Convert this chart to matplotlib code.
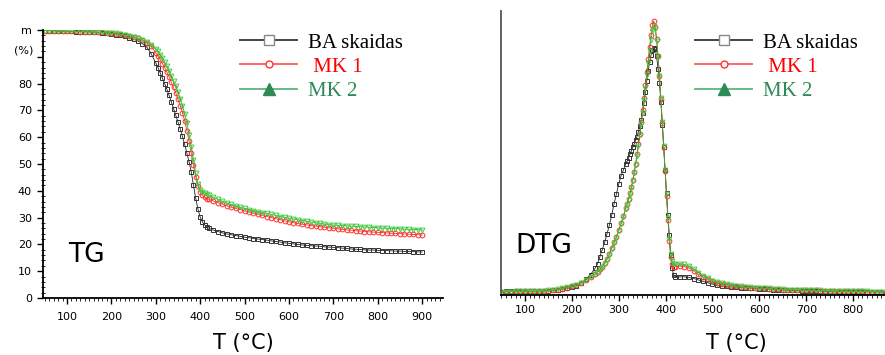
import numpy as np
import matplotlib
matplotlib.use("Agg")
from matplotlib import pyplot as plt
from matplotlib.lines import Line2D
from matplotlib.ticker import MultipleLocator

# temperature grids (denser where the curves are steep)
t_tg = np.concatenate([np.arange(50, 300, 10), np.arange(300, 420, 5), np.arange(420, 901, 10)])
t_dtg = np.concatenate([np.arange(50, 251, 10), np.arange(255, 316, 5),
                        np.arange(318, 421, 3), np.arange(430, 901, 10)])

# TG, mass %
tg_ba = [99.8, 99.8, 99.7, 99.6, 99.6, 99.5, 99.5, 99.4, 99.4, 99.3,
         99.3, 99.2, 99.1, 99.0, 98.8, 98.6, 98.3, 98.0, 97.6, 97.1,
         96.6, 95.9, 94.9, 93.6, 91.0,
         87.8, 86.0, 84.0, 82.0, 80.0, 77.9, 75.6, 73.2, 70.7, 68.2,
         65.7, 63.2, 60.4, 57.3, 54.1, 50.8, 47.0, 42.0, 37.2, 33.2,
         30.2, 28.4, 27.3, 26.6,
         26.0, 25.3, 24.8, 24.3, 23.9, 23.6, 23.3, 23.0, 22.7, 22.5,
         22.2, 22.0, 21.8, 21.6, 21.3, 21.1, 20.9, 20.6, 20.4, 20.2,
         20.0, 19.8, 19.6, 19.5, 19.4, 19.3, 19.1, 19.0, 18.9, 18.8,
         18.6, 18.5, 18.3, 18.2, 18.1, 18.0, 17.9, 17.9, 17.8, 17.7,
         17.7, 17.6, 17.5, 17.5, 17.4, 17.4, 17.3, 17.2, 17.2]
tg_mk1 = [99.8, 99.8, 99.7, 99.7, 99.6, 99.6, 99.5, 99.5, 99.4, 99.4,
          99.3, 99.3, 99.2, 99.1, 99.0, 98.8, 98.6, 98.4, 98.1, 97.8,
          97.4, 96.9, 96.2, 95.2, 94.0,
          91.4, 90.3, 89.0, 87.5, 86.0, 84.3, 82.5, 80.5, 78.6, 76.6,
          74.2, 71.8, 69.2, 66.2, 62.5, 58.4, 54.0, 49.5, 45.2, 41.8,
          39.5, 38.3, 37.6, 37.1,
          36.8, 36.2, 35.6, 35.0, 34.4, 33.9, 33.4, 33.0, 32.5, 32.0,
          31.6, 31.2, 30.8, 30.4, 30.0, 29.6, 29.2, 28.8, 28.4, 28.1,
          27.8, 27.5, 27.3, 27.0, 26.8, 26.6, 26.4, 26.2, 26.0, 25.8,
          25.6, 25.4, 25.3, 25.1, 25.0, 24.8, 24.7, 24.6, 24.5, 24.4,
          24.3, 24.2, 24.1, 24.0, 23.9, 23.8, 23.7, 23.6, 23.5]
tg_mk2 = [99.8, 99.8, 99.8, 99.7, 99.7, 99.6, 99.6, 99.5, 99.5, 99.4,
          99.4, 99.3, 99.2, 99.1, 99.0, 98.9, 98.7, 98.5, 98.2, 97.9,
          97.5, 97.0, 96.4, 95.5, 94.4,
          93.0, 92.0, 90.8, 89.5, 88.1, 86.5, 84.7, 82.8, 80.9, 79.0,
          76.8, 74.4, 71.8, 68.8, 65.2, 61.0, 56.4, 51.4, 46.6, 42.6,
          40.3, 39.5, 39.0, 38.7,
          38.4, 37.6, 36.8, 36.1, 35.5, 34.9, 34.4, 33.9, 33.4, 33.0,
          32.6, 32.2, 31.9, 31.6, 31.2, 30.8, 30.4, 30.1, 29.8, 29.5,
          29.2, 28.9, 28.6, 28.3, 28.1, 27.9, 27.6, 27.4, 27.2, 27.1,
          27.0, 26.9, 26.8, 26.7, 26.6, 26.5, 26.4, 26.3, 26.2, 26.1,
          26.0, 25.9, 25.9, 25.8, 25.7, 25.6, 25.5, 25.5, 25.4]

# DTG, arbitrary units
dtg_ba = [0.012, 0.013, 0.014, 0.015, 0.015, 0.015, 0.014, 0.014, 0.014, 0.014,
          0.015, 0.016, 0.018, 0.020, 0.023, 0.028, 0.033, 0.042, 0.055, 0.072, 0.095,
          0.110, 0.135, 0.160, 0.185, 0.215, 0.245, 0.280, 0.320, 0.355, 0.390, 0.420, 0.440, 0.462,
          0.472, 0.482, 0.495, 0.508, 0.520, 0.532, 0.545, 0.558, 0.575, 0.595,
          0.615, 0.640, 0.675, 0.715, 0.755, 0.790, 0.820, 0.845, 0.862, 0.870,
          0.865, 0.840, 0.795, 0.745, 0.680, 0.600, 0.520, 0.440, 0.360, 0.280,
          0.210, 0.140, 0.095, 0.072, 0.065,
          0.064, 0.064, 0.062, 0.058, 0.053, 0.048, 0.043, 0.038, 0.035, 0.032,
          0.030, 0.028, 0.027, 0.026, 0.025, 0.024, 0.023, 0.022, 0.021, 0.020,
          0.019, 0.018, 0.017, 0.017, 0.016, 0.016, 0.015, 0.015, 0.014, 0.014,
          0.014, 0.013, 0.013, 0.013, 0.012, 0.012, 0.012, 0.012, 0.011, 0.011,
          0.011, 0.011, 0.011, 0.010, 0.010, 0.010, 0.010, 0.010]
dtg_mk1 = [0.010, 0.011, 0.012, 0.013, 0.013, 0.013, 0.013, 0.013, 0.013, 0.014,
           0.015, 0.017, 0.019, 0.022, 0.026, 0.030, 0.035, 0.043, 0.052, 0.063, 0.075,
           0.082, 0.090, 0.100, 0.112, 0.126, 0.145, 0.165, 0.185, 0.205, 0.228, 0.252, 0.278, 0.305,
           0.320, 0.338, 0.358, 0.380, 0.405, 0.432, 0.462, 0.495, 0.530, 0.568,
           0.608, 0.650, 0.695, 0.740, 0.785, 0.830, 0.875, 0.915, 0.950, 0.965,
           0.945, 0.900, 0.840, 0.770, 0.690, 0.605, 0.520, 0.435, 0.350, 0.265,
           0.190, 0.135, 0.110, 0.100, 0.100,
           0.102, 0.100, 0.094, 0.085, 0.073, 0.063, 0.055, 0.048, 0.043, 0.039,
           0.036, 0.033, 0.031, 0.029, 0.027, 0.026, 0.025, 0.024, 0.023, 0.022,
           0.021, 0.020, 0.019, 0.019, 0.018, 0.018, 0.017, 0.017, 0.016, 0.016,
           0.015, 0.015, 0.015, 0.014, 0.014, 0.014, 0.013, 0.013, 0.013, 0.013,
           0.012, 0.012, 0.012, 0.012, 0.012, 0.011, 0.011, 0.011]
dtg_mk2 = [0.011, 0.012, 0.012, 0.013, 0.013, 0.013, 0.013, 0.013, 0.014, 0.015,
           0.016, 0.018, 0.020, 0.023, 0.027, 0.031, 0.036, 0.044, 0.053, 0.063, 0.074,
           0.082, 0.090, 0.099, 0.110, 0.124, 0.142, 0.162, 0.182, 0.202, 0.225, 0.249, 0.275, 0.302,
           0.318, 0.335, 0.355, 0.377, 0.401, 0.428, 0.457, 0.490, 0.525, 0.562,
           0.601, 0.642, 0.686, 0.730, 0.775, 0.818, 0.860, 0.898, 0.930, 0.948,
           0.935, 0.895, 0.838, 0.770, 0.692, 0.610, 0.525, 0.440, 0.355, 0.272,
           0.198, 0.143, 0.118, 0.108, 0.108,
           0.110, 0.108, 0.101, 0.091, 0.079, 0.068, 0.059, 0.051, 0.045, 0.041,
           0.037, 0.034, 0.032, 0.030, 0.028, 0.027, 0.026, 0.025, 0.024, 0.023,
           0.022, 0.021, 0.020, 0.019, 0.019, 0.018, 0.018, 0.017, 0.017, 0.016,
           0.016, 0.015, 0.015, 0.015, 0.014, 0.014, 0.014, 0.013, 0.013, 0.013,
           0.013, 0.012, 0.012, 0.012, 0.012, 0.012, 0.011, 0.011]

labels = ["BA skaidas", " MK 1", "MK 2"]
label_colors = ["black", "#ff0000", "#2e8b57"]

fig = plt.figure(figsize=(8.85, 3.55), dpi=100)
ax1 = fig.add_axes([43 / 885, 57 / 355, 400 / 885, 268 / 355])
ax2 = fig.add_axes([501 / 885, 60 / 355, 384 / 885, 284 / 355])

styles = [dict(marker="s", color="#222222", mec="#333333"),
          dict(marker="o", color="#ff3030", mec="#ff3030"),
          dict(marker="v", color="#30b030", mec="#44cc44")]


def draw(ax, t, series):
    for y, st in zip(series, styles):
        ax.plot(t, y, lw=0.6, marker=st["marker"], color=st["color"], mec=st["mec"],
                mfc="none", ms=3.4, mew=0.7)


draw(ax1, t_tg, [tg_ba, tg_mk1, tg_mk2])
draw(ax2, t_dtg, [dtg_ba, dtg_mk1, dtg_mk2])

for ax in (ax1, ax2):
    ax.spines["top"].set_visible(False)
    ax.spines["right"].set_visible(False)
    ax.xaxis.set_major_locator(MultipleLocator(100))
    ax.xaxis.set_minor_locator(MultipleLocator(10))
    ax.tick_params(axis="x", which="major", direction="out", length=4, width=1, labelsize=8)
    ax.tick_params(axis="x", which="minor", direction="out", length=2, width=0.6)

ax1.set_xlim(46, 947)
ax1.set_ylim(0, 100)
ax1.set_yticks(np.arange(0, 101, 10))
ax1.set_yticklabels([str(v) for v in range(0, 90, 10)] + ["", "m"])
ax1.yaxis.set_minor_locator(MultipleLocator(2))
ax1.tick_params(axis="y", which="major", direction="out", length=4, width=1, labelsize=8, pad=4)
ax1.tick_params(axis="y", which="minor", direction="inout", length=3, width=0.6)
ax1.tick_params(axis="x", which="major", pad=6)
for s in ("left", "bottom"):
    ax1.spines[s].set_linewidth(1.3)
ax1.text(-0.025, 92.5, "(%)", transform=ax1.get_yaxis_transform(), ha="right",
         va="center", fontsize=8)
ax1.text(68 / 885, 1 - 262 / 355, "TG", transform=fig.transFigure, fontsize=19,
         va="baseline")

ax2.set_xlim(49, 868)
ax2.set_ylim(0, 1.0)
ax2.set_yticks([])
ax2.spines["left"].set_color("#555555")
ax2.spines["left"].set_linewidth(1.3)
ax2.spines["bottom"].set_linewidth(1.3)
ax2.tick_params(axis="x", which="major", pad=3)
ax2.text(515 / 885, 1 - 253 / 355, "DTG", transform=fig.transFigure, fontsize=19,
         va="baseline")

fig.text(243 / 885, 1 - 343 / 355, "T (°C)", ha="center", va="center", fontsize=15)
fig.text(736 / 885, 1 - 343 / 355, "T (°C)", ha="center", va="center", fontsize=15)

handles = [Line2D([], [], color="#444444", lw=1.4, marker="s", ms=7, mfc="white", mec="#888888", mew=1),
           Line2D([], [], color="#ff6666", lw=1.4, marker="o", ms=5, mfc="white", mec="#ff3333", mew=1),
           Line2D([], [], color="#66bb88", lw=1.4, marker="^", ms=8, mfc="#2e8b57", mec="#2e8b57")]

for x0 in (240, 695):
    leg = fig.legend(handles, labels, loc="upper left",
                     bbox_to_anchor=(x0 / 885, 1 - 33 / 355),
                     frameon=False, borderpad=0, borderaxespad=0,
                     handlelength=2.75, handletextpad=0.5, labelspacing=0.22,
                     prop={"family": "Liberation Serif", "size": 15})
    for txt, c in zip(leg.get_texts(), label_colors):
        txt.set_color(c)

fig.savefig("out.png", dpi=100)
